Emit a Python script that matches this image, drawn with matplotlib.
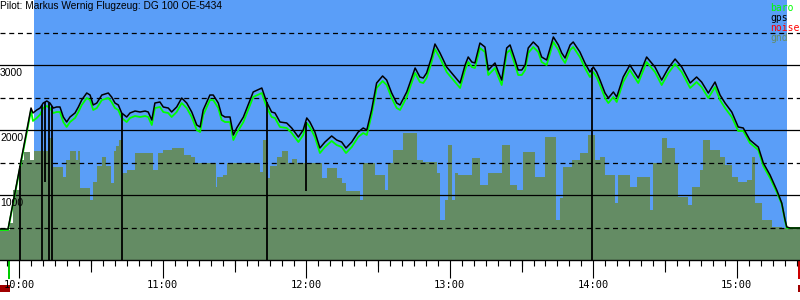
import matplotlib
matplotlib.use('Agg')
import matplotlib.pyplot as plt
import numpy as np
from matplotlib.patches import Rectangle

title = "Pilot: Markus Wernig Flugzeug: DG 100 OE-5434"

# time in minutes after 10:00, altitude in metres
track_t = [-8.1, -4.7, 4.9, 5.7, 7.3, 8.7, 10.0, 11.5, 12.8, 14.2, 15.6, 17.0, 18.4, 19.8,
           21.2, 23.3, 24.7, 26.1, 28.2, 29.6, 30.9, 32.4, 34.5, 37.2, 38.6, 40.0, 41.4,
           42.8, 44.9, 46.3, 48.4, 50.5, 52.6, 53.9, 55.4, 56.7, 58.8, 60.2, 62.3, 63.7,
           65.8, 67.9, 70.0, 72.1, 74.2, 75.6, 76.9, 79.7, 81.1, 83.2, 84.6, 86.0, 88.1,
           89.5, 90.9, 93.7, 96.5, 97.8, 101.4, 103.4, 105.5, 106.9, 109.0, 111.8, 113.9,
           116.7, 118.7, 120.2, 121.5, 123.6, 125.7, 127.8, 130.6, 132.7, 134.8, 136.6,
           139.0, 141.7, 143.8, 145.3, 147.3, 149.4, 151.9, 153.6, 155.7, 157.8, 159.2,
           162.0, 165.5, 167.5, 168.9, 170.3, 172.4, 173.8, 175.9, 178.7, 181.5, 184.3,
           186.4, 187.7, 189.2, 190.5, 192.6, 194.7, 196.1, 198.9, 200.3, 201.7, 203.8,
           205.2, 207.3, 208.6, 210.1, 211.5, 212.8, 214.9, 217.0, 218.4, 220.5, 223.3,
           225.4, 226.8, 228.2, 230.3, 231.6, 234.4, 236.5, 238.6, 240.0, 241.4, 242.8,
           244.9, 246.3, 248.4, 249.8, 252.5, 255.3, 258.8, 262.3, 265.8, 268.6, 271.4,
           274.2, 277.0, 280.5, 283.2, 285.3, 288.1, 290.9, 293.0, 295.1, 297.9, 300.6,
           302.7, 305.5, 309.0, 311.1, 313.9, 316.7, 318.8, 320.2, 320.9, 322.3, 326.4]

gps_alt = [477, 477, 2338, 2262, 2308, 2338, 2415, 2446, 2415, 2338, 2354, 2354, 2200, 2123,
           2200, 2262, 2354, 2462, 2569, 2538, 2385, 2415, 2538, 2569, 2508, 2415, 2385,
           2262, 2200, 2262, 2292, 2277, 2292, 2277, 2154, 2415, 2431, 2354, 2338, 2277,
           2354, 2492, 2415, 2277, 2077, 2046, 2308, 2538, 2538, 2415, 2231, 2200, 2200,
           1923, 2031, 2200, 2462, 2585, 2646, 2431, 2277, 2262, 2123, 2108, 2031,
           1892, 2000, 2185, 2123, 1969, 1723, 1815, 1908, 1846, 1815, 1723,
           1815, 1969, 2031, 2000, 2308, 2723, 2831, 2769, 2569, 2415, 2385,
           2585, 2954, 2815, 2800, 2877, 3123, 3323, 3185, 2969, 2846, 2723,
           3000, 3123, 3046, 3031, 3338, 3277, 2923, 3031, 2892, 2769, 3262,
           3308, 3077, 2923, 2923, 3000, 3262, 3354, 3277, 3123, 3077, 3431,
           3308, 3185, 3108, 3308, 3354, 3200, 3031, 2892, 2969, 2892, 2769,
           2569, 2492, 2585, 2508, 2815, 3000, 2800, 3123, 2969, 2769, 2954,
           3092, 2969, 2723, 2815, 2738, 2569, 2738, 2538, 2415, 2277, 2046,
           2031, 1846, 1738, 1492, 1308, 1077, 877, 615, 508, 492, 492]

baro_alt = [462, 462, 2300, 2139, 2185, 2238, 2338, 2369, 2338, 2261, 2277, 2277, 2123, 2046,
            2123, 2185, 2277, 2385, 2492, 2461, 2308, 2338, 2461, 2492, 2431, 2338, 2308,
            2185, 2123, 2185, 2215, 2200, 2215, 2200, 2077, 2338, 2354, 2277, 2261, 2200,
            2277, 2415, 2338, 2200, 2000, 1969, 2231, 2461, 2461, 2338, 2154, 2123, 2123,
            1846, 1954, 2123, 2385, 2508, 2569, 2354, 2200, 2185, 2046, 2031, 1954,
            1815, 1923, 2108, 2046, 1892, 1646, 1738, 1831, 1769, 1738, 1646,
            1738, 1892, 1954, 1923, 2231, 2646, 2754, 2692, 2492, 2338, 2308,
            2508, 2877, 2738, 2723, 2800, 3046, 3246, 3108, 2892, 2769, 2646,
            2923, 3046, 2969, 2954, 3261, 3200, 2846, 2954, 2815, 2692, 3185,
            3231, 3000, 2846, 2846, 2923, 3185, 3277, 3200, 3046, 3000, 3354,
            3231, 3108, 3031, 3231, 3277, 3123, 2954, 2815, 2892, 2815, 2692,
            2492, 2415, 2508, 2431, 2738, 2923, 2723, 3046, 2892, 2692, 2877,
            3015, 2892, 2646, 2738, 2661, 2492, 2661, 2461, 2338, 2200, 1985,
            1985, 1800, 1692, 1446, 1262, 1046, 862, 600, 492, 492, 492]

gnd_t = [-8.1, -3.9, -2.6, 0.3, 2.0, 4.5, 6.1, 12.0, 14.1, 18.3, 19.5, 21.2, 23.7, 24.5,
         25.4, 29.6, 30.8, 32.5, 34.6, 36.3, 38.3, 39.6, 40.4, 41.7, 43.0, 45.0, 48.4,
         55.9, 58.0, 60.1, 63.8, 68.9, 71.8, 73.5, 82.2, 82.7, 85.2, 86.8, 100.6, 101.9,
         103.6, 104.8, 107.7, 109.8, 112.3, 114.0, 116.1, 126.6, 128.7, 132.8, 134.9,
         136.6, 142.5, 143.7, 148.7, 152.9, 154.2, 156.3, 160.4, 166.3, 168.8, 174.6,
         175.9, 178.0, 179.3, 180.9, 182.2, 183.5, 189.3, 192.6, 196.0, 201.8, 205.2,
         208.1, 210.6, 215.6, 219.8, 224.5, 226.1, 227.3, 231.1, 234.4, 237.8, 240.7,
         242.8, 244.9, 249.1, 250.3, 255.3, 258.3, 263.7, 264.9, 268.7, 270.8, 274.2,
         275.4, 279.6, 281.3, 284.6, 285.9, 288.8, 293.0, 295.1, 298.0, 300.5, 304.3,
         306.4, 307.6, 310.6, 314.7, 318.9, 326.4]

gnd_alt = [462, 569, 1077, 1538, 1662, 1538, 1677, 1877, 1431, 1277, 1538, 1677, 1538, 1677,
           1108, 923, 1200, 1446, 1585, 1446, 1185, 1677, 1754, 1846, 1338, 1385, 1646,
           1385, 1646, 1692, 1723, 1615, 1585, 1492, 1123, 1277, 1308, 1492, 1354, 1846,
           1262, 1446, 1585, 1677, 1492, 1554, 1492, 1262, 1415, 1262, 1185,
           1062, 923, 1492, 1308, 1077, 1492, 1692, 1954, 1538, 1508, 1338,
           615, 923, 1769, 923, 1338, 1308, 1569, 1154, 1338, 1769, 1154,
           1077, 1662, 1277, 1892, 615, 954, 1431, 1538, 1646, 1923, 1538,
           1585, 1308, 877, 1308, 1123, 1277, 769, 1492, 1877, 1723, 1492,
           969, 846, 1123, 1385, 1846, 1692, 1585, 1462, 1277, 1200, 1231,
           1585, 877, 615, 508, 492, 492]

dropout_t = [0.3, 9.4, 10.7, 12.5, 13.5, 42.8, 103.4, 119.7, 239.6]
dropout_floor = [0, 0, 1200, 0, 0, 0, 0, 1066, 0]

flight_start, flight_end = 6.1, 320.8
takeoff_t, landing_t = -4.3, 326.0
x_range = (-8.07, 326.43)
y_range = (0, 4000)

hour_ticks = [0, 60, 120, 180, 240, 300]
hour_labels = ['10:00', '11:00', '12:00', '13:00', '14:00', '15:00']
solid_levels = [1000, 2000, 3000]
dashed_levels = [500, 1500, 2500, 3500]
alt_labels = ['1000', '2000', '3000']
legend_names = ['baro', 'gps', 'noise', 'gnd']

BLUE = '#5a9ef8'
GND = '#648c64'
BARO = '#00ff00'
legend_colors = [BARO, '#000000', '#ff0000', GND]

fig = plt.figure(figsize=(8, 3), dpi=100)
ax = fig.add_axes([0, 40 / 300, 1, 260 / 300])
ax.set_xlim(*x_range)
ax.set_ylim(*y_range)

ax.axvspan(flight_start, flight_end, color=BLUE, lw=0, zorder=0)
ax.fill_between(gnd_t, gnd_alt, step='post', color=GND, lw=0, zorder=1)
for v in solid_levels:
    ax.axhline(v, color='k', lw=0.9, zorder=2)
for v in dashed_levels:
    ax.axhline(v, color='k', lw=0.9, ls=(0, (4, 3)), zorder=2)

ax.plot(track_t, baro_alt, color=BARO, lw=1.3, zorder=3)
ax.plot(track_t, gps_alt, color='k', lw=1.1, zorder=4)
tops = np.interp(dropout_t, track_t, gps_alt)
ax.vlines(dropout_t, dropout_floor, tops, color='k', lw=1.3, zorder=4)

for s in ['top', 'left', 'right']:
    ax.spines[s].set_visible(False)
ax.spines['bottom'].set_linewidth(1.0)
ax.set_yticks([])
ax.set_xticks(hour_ticks, hour_labels, family='DejaVu Sans Mono', fontsize=7.5)
ax.set_xticks(np.arange(-5, 326, 5), minor=True)
ax.tick_params(axis='x', which='major', length=13, width=0.8, pad=1.5)
ax.tick_params(axis='x', which='minor', length=4.3, width=0.8)
xt = ax.get_xaxis_transform()
half_hours = [h + 30 for h in hour_ticks]
ax.vlines(half_hours, 0, -12 / 260, transform=xt, color='k', lw=0.8, clip_on=False)

for lab, v in zip(alt_labels, solid_levels):
    ax.annotate(lab, xy=(0, v), xycoords=('axes fraction', 'data'), xytext=(0, -3),
                textcoords='offset pixels', ha='left', va='top', fontsize=7.5,
                family='Liberation Sans', zorder=5)

# take-off / landing markers
ax.add_patch(Rectangle((takeoff_t - 0.5, -19 / 260), 1.0, 18 / 260, transform=xt,
                       clip_on=False, color='#00cc00', lw=0))
ax.add_patch(Rectangle((x_range[0], -32 / 260), takeoff_t - x_range[0] + 0.4, 7 / 260,
                       transform=xt, clip_on=False, color='#a00000', lw=0))
ax.add_patch(Rectangle((landing_t - 0.5, -19 / 260), 1.0, 18 / 260, transform=xt,
                       clip_on=False, color='#cc0000', lw=0))
ax.add_patch(Rectangle((landing_t - 0.2, -32 / 260), 0.8, 7 / 260, transform=xt,
                       clip_on=False, color='#a00000', lw=0))

fig.text(0, 1 - 1 / 300, title, ha='left', va='top', fontsize=7.3, family='Liberation Sans')
for i, (n, c) in enumerate(zip(legend_names, legend_colors)):
    fig.text(770 / 800, 1 - (3 + 10 * i) / 300, n, ha='left', va='top', fontsize=7,
             family='DejaVu Sans Mono', color=c)

fig.savefig('out.png', dpi=100)
